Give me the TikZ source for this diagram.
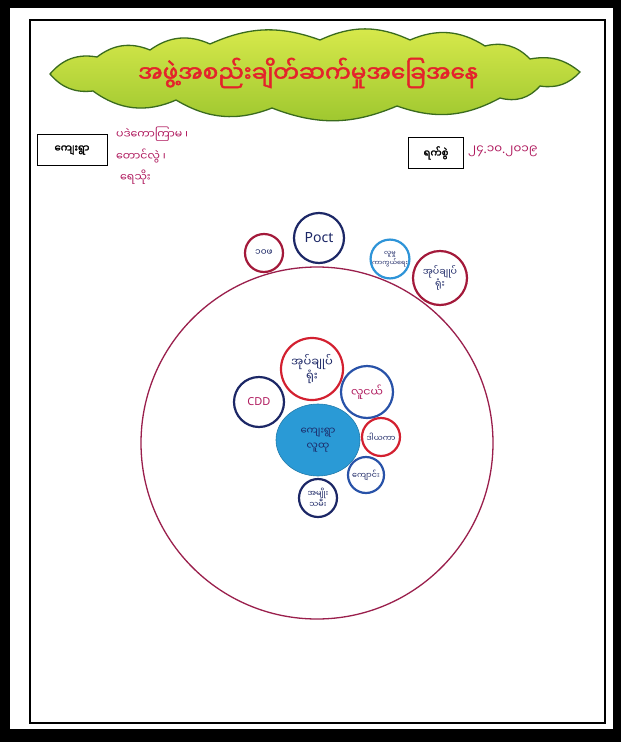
\documentclass[tikz,border=0pt]{standalone}
\usepackage{fontspec}
\setmainfont{Noto Sans}
\newfontfamily\my[Script=Myanmar]{Noto Sans Myanmar UI}
\newfontfamily\myb[Script=Myanmar,FakeBold=2]{Noto Sans Myanmar UI}
\newfontfamily\lat{Noto Sans}
\usetikzlibrary{shapes.geometric}
\definecolor{cloudA}{HTML}{D9EA4C}
\definecolor{cloudB}{HTML}{9CC62E}
\definecolor{cloudline}{HTML}{3A6B1E}
\definecolor{titlered}{HTML}{E4232B}
\definecolor{ink}{HTML}{B01A5E}
\definecolor{navy}{HTML}{1C2766}
\definecolor{cred}{HTML}{D32030}
\definecolor{maroon}{HTML}{A3193A}
\definecolor{cblue}{HTML}{2852A8}
\definecolor{lblue}{HTML}{2E94D8}
\definecolor{bigc}{HTML}{9A1F4C}
\definecolor{centerfill}{HTML}{2A9AD6}
\begin{document}
\begin{tikzpicture}[x=1pt,y=-1pt,
  circ/.style={circle, line width=2.2pt, inner sep=0pt, align=center, fill=white,
     font=\my\fontsize{8.5}{10}\selectfont, text=navy},
  labbox/.style={draw=black, line width=0.9pt, minimum width=70pt, minimum height=31pt,
     inner sep=0pt, font=\myb\fontsize{10}{12}\selectfont},
  hand/.style={text=ink, anchor=west, inner sep=0pt, font=\my\fontsize{11}{13}\selectfont}]
\useasboundingbox (0,0) rectangle (621,742);
\fill[black] (0,0) rectangle (621,742);
\fill[white] (10,8) rectangle (613,729);
\draw[line width=1.2pt] (30,20) rectangle (605,723);
% cloud
\draw[cloudline, line width=1.3pt, top color=cloudA, bottom color=cloudB]
  (50,74) to[bend left=30] (97,57) to[bend left=30] (150,50) to[bend left=30] (210,44)
  to[bend left=22] (320,40) to[bend left=25] (410,40) to[bend left=28] (485,46)
  to[bend left=30] (530,59) to[bend left=25] (580,72)
  to[bend left=28] (540,86) to[bend left=32] (500,98) to[bend left=24] (397,106)
  to[bend left=22] (272,108) to[bend left=26] (176,100) to[bend left=30] (93,91)
  to[bend left=28] cycle;
\node[text=titlered, font=\myb\fontsize{23}{25}\selectfont] (title) at (308,73) {အဖွဲ့အစည်းချိတ်ဆက်မှုအခြေအနေ};
% left label
\node[labbox] (vbox) at (72,150) {ကျေးရွာ};
\node[hand] (v1) at (116,134) {ပဒဲကောကြာမ ၊};
\node[hand] (v2) at (116,156) {တောင်လွဲ ၊};
\node[hand] (v3) at (120,177) {ရေသိုး};
% right label
\node[labbox, minimum width=55pt] (dbox) at (436,153) {ရက်စွဲ};
\node[hand, font=\my\fontsize{12}{14}\selectfont] (date) at (468,151) {၂၄{\lat .}၁၀{\lat .}၂၀၁၉};
% big circle
\coordinate (big) at (317,443);
\draw[bigc, line width=1.3pt] (big) circle[radius=176pt];
% outer small circles
\node[circ, draw=maroon, minimum size=38pt, font=\my\fontsize{9}{10}\selectfont] (o1) at (264,253) {၁၀ဖ};
\node[circ, draw=navy, minimum size=50pt, font=\lat\fontsize{14}{15}\selectfont] (o2) at (319,238) {Poct};
\node[circ, draw=lblue, minimum size=38pt, font=\my\fontsize{6.5}{7.5}\selectfont] (o3) at (390,259) {လူမှု\\ကာကွယ်ရေး};
\node[circ, draw=maroon, minimum size=54pt, font=\my\fontsize{9.5}{11}\selectfont] (o4) at (440,278) {အုပ်ချုပ်\\ရုံး};
% inner circles
\node[circ, draw=cred, minimum size=62pt, font=\my\fontsize{11.5}{13.5}\selectfont] (i1) at (312,369) {အုပ်ချုပ်\\ရုံး};
\node[circ, draw=navy, minimum size=50pt, text=ink, font=\lat\fontsize{11}{13}\selectfont] (i2) at (259,402) {CDD};
\node[circ, draw=cblue, minimum size=52pt, text=ink, font=\my\fontsize{11}{13}\selectfont] (i3) at (367,392) {လူငယ်};
\node[ellipse, fill=centerfill, draw=centerfill!80!black, line width=0.6pt, minimum width=84pt, minimum height=72pt,
  inner sep=0pt, align=center, text=navy, font=\my\fontsize{10}{15}\selectfont] (ctr) at (318,440) {ကျေးရွာ\\လူထု};
\node[circ, draw=cred, minimum size=38pt, font=\my\fontsize{8}{9}\selectfont] (i4) at (381,437) {ဒါယကာ};
\node[circ, draw=cblue, minimum size=36pt, font=\my\fontsize{8}{9}\selectfont] (i5) at (366,475) {ကျောင်း};
\node[circ, draw=navy, minimum size=38pt, font=\my\fontsize{8}{9.5}\selectfont] (i6) at (318,498) {အမျိုး\\သမီး};
\end{tikzpicture}
\end{document}
